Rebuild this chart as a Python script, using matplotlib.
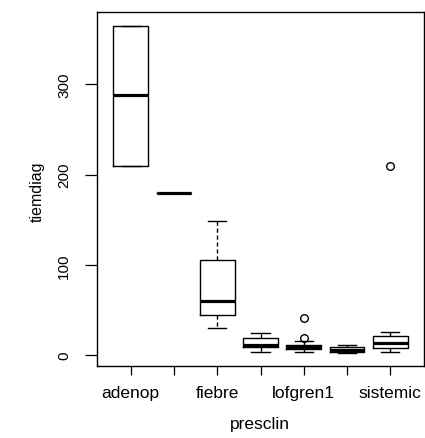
import matplotlib
matplotlib.use("Agg")
import matplotlib.pyplot as plt

# Data (R-style boxplot of tiemdiag by presclin)
tick_labels = ["adenop", "", "fiebre", "", "lofgren1", "", "sistemic"]
whislo = [210, 180, 30, 4, 3.3, 2.2, 4]
q1 = [210, 180, 45, 8.5, 6.6, 3, 7.7]
med = [288, 180, 60, 11, 8.9, 5.9, 13.3]
q3 = [365, 180, 105, 18.5, 11, 8.5, 21.4]
whishi = [365, 180, 149, 24.4, 16.2, 11, 26]
fliers = [[], [], [], [], [41, 18.5], [], [210]]

plt.rcParams['font.family'] = ['Liberation Sans', 'DejaVu Sans']

fig = plt.figure(figsize=(4.25, 4.39), dpi=100)
ax = fig.add_axes([97 / 425, 1 - 367 / 439, (424 - 97) / 425, (367 - 13) / 439])

stats = []
for i in range(len(med)):
    stats.append(dict(whislo=whislo[i], q1=q1[i], med=med[i], q3=q3[i],
                      whishi=whishi[i], fliers=fliers[i]))

positions = list(range(1, len(med) + 1))
ax.bxp(stats, positions=positions, widths=0.8, capwidths=0.42,
       boxprops=dict(color="black", linewidth=1.0),
       medianprops=dict(color="black", linewidth=2.3, solid_capstyle="butt"),
       whiskerprops=dict(color="black", linewidth=1.0, linestyle=(0, (3, 2))),
       capprops=dict(color="black", linewidth=1.0),
       flierprops=dict(marker="o", markerfacecolor="none", markeredgecolor="black",
                       markersize=5.5, markeredgewidth=1.0))

ax.set_xlim(0.22, 7.78)
ax.set_ylim(-12, 380)
ax.set_xticks(positions)
ax.set_xticklabels(tick_labels, fontsize=12.5)
ax.set_yticks([0, 100, 200, 300])
ax.set_yticklabels(["0", "100", "200", "300"], fontsize=11, rotation=90, va="center")
ax.tick_params(axis="x", direction="out", length=6.5, width=0.9, pad=7)
ax.tick_params(axis="y", direction="out", length=8.6, width=0.9, pad=10)
for s in ax.spines.values():
    s.set_linewidth(1.0)

fig.text(260 / 425, 1 - 425 / 439, "presclin", ha="center", va="center", fontsize=12.5)
fig.text(37 / 425, 1 - 192 / 439, "tiemdiag", ha="center", va="center", fontsize=11.5, rotation=90)

fig.savefig("out.png", dpi=100)
